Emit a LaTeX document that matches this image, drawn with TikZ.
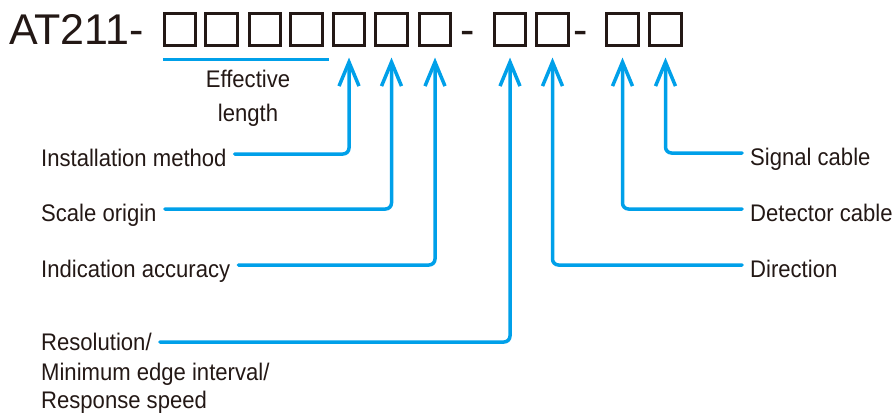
\documentclass[tikz,border=0pt]{standalone}
\usepackage{fontspec}
\setmainfont{Liberation Sans}
\newfontfamily\labfont{Liberation Sans}[FakeStretch=0.92]
\usetikzlibrary{arrows.meta}
\definecolor{codeblue}{HTML}{00A0E9}
\definecolor{ink}{HTML}{231815}

\begin{document}
\begin{tikzpicture}[x=1pt, y=-1pt,
        slot/.style={draw=ink, line width=2.6pt, minimum size=31.5pt, inner sep=0pt},
        code text/.style={text=ink, font=\fontsize{43}{47}\selectfont, inner sep=0pt, anchor=base},
        label node/.style={text=ink, font=\labfont\fontsize{24}{28}\selectfont, inner sep=0pt, text height=24pt, text depth=0pt},
        conn/.style={draw=codeblue, line width=3.5pt, line cap=round, rounded corners=6pt, shorten <=8pt, -{Straight Barb[length=24pt,width=20pt]}}]

    \useasboundingbox (0,0) rectangle (895,415);

    % Model code
    \node[code text, anchor=base west] (model) at (9,45) {AT211-};
    \node[slot] (b1) at (180,29.5) {};
    \node[slot] (b2) at (221.5,29.5) {};
    \node[slot] (b3) at (265,29.5) {};
    \node[slot] (b4) at (306.5,29.5) {};
    \node[slot] (b5) at (349,29.5) {};
    \node[slot] (b6) at (391.5,29.5) {};
    \node[slot] (b7) at (435,29.5) {};
    \node[code text] (d1) at (468,45) {-};
    \node[slot] (b8) at (510,29.5) {};
    \node[slot] (b9) at (552.5,29.5) {};
    \node[code text] (d2) at (580.5,45) {-};
    \node[slot] (b10) at (622.5,29.5) {};
    \node[slot] (b11) at (665.5,29.5) {};

    % Effective length
    \draw[codeblue, line width=3.5pt] ([yshift=-13pt]b1.south west) -- ([xshift=5pt,yshift=-13pt]b4.south east);
    \node[label node, anchor=base] (eff) at (248,87) {Effective};
    \node[label node, anchor=base] (len) at (248,121) {length};

    % Labels
    \node[label node, anchor=west] (inst) at (41,154) {Installation method};
    \node[label node, anchor=west] (origin) at (41,209) {Scale origin};
    \node[label node, anchor=west] (acc) at (41,265) {Indication accuracy};
    \node[label node, anchor=west, text height=16pt] (res) at (41,342) {Resolution/};
    \node[label node, anchor=base west] (edge) at (41,380) {Minimum edge interval/};
    \node[label node, anchor=base west] (speed) at (41,408) {Response speed};
    \node[label node, anchor=west] (sig) at (750,153) {Signal cable};
    \node[label node, anchor=west] (det) at (750,209) {Detector cable};
    \node[label node, anchor=west] (dir) at (750,265) {Direction};

    % Connectors
    \draw[conn] (inst.east) -| ([yshift=-11pt]b5.south);
    \draw[conn] (origin.east) -| ([yshift=-11pt]b6.south);
    \draw[conn] (acc.east) -| ([yshift=-11pt]b7.south);
    \draw[conn] (res.east) -| ([yshift=-11pt]b8.south);
    \draw[conn] (dir.west) -| ([yshift=-11pt]b9.south);
    \draw[conn] (det.west) -| ([yshift=-11pt]b10.south);
    \draw[conn] (sig.west) -| ([yshift=-11pt]b11.south);
\end{tikzpicture}
\end{document}
